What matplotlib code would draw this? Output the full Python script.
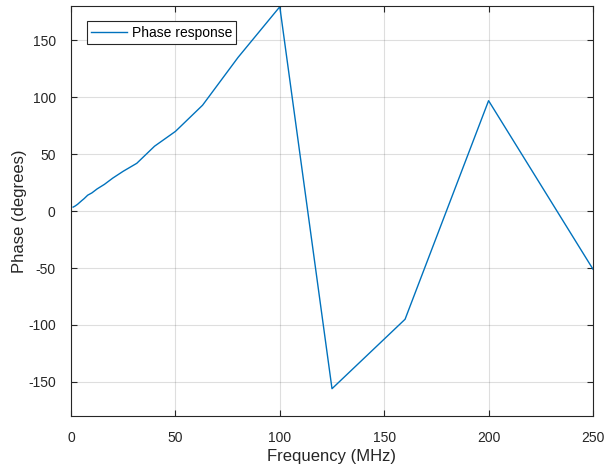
import matplotlib
matplotlib.use("Agg")
import matplotlib.pyplot as plt

# 1/3-octave frequency points (MHz) and phase
freq_mhz = [1, 2, 3.15, 5, 6.3, 8, 10, 12.5, 16, 20, 25, 31.5, 40, 50, 63, 80, 100, 125, 160, 200, 250]
phase_deg = [3.5, 4.5, 6, 9, 11, 14, 16, 19.5, 23.5, 29, 35, 42, 57, 70, 93, 135, 179.5, -156, -95, 97, -51]

x_ticks = [0, 50, 100, 150, 200, 250]
y_ticks = [-150, -100, -50, 0, 50, 100, 150]

plt.rcParams['font.family'] = ['Liberation Sans', 'DejaVu Sans']
plt.rcParams['axes.unicode_minus'] = False

fig = plt.figure(figsize=(6.06, 4.76), dpi=100)
ax = fig.add_axes([0.1172, 0.126, 0.8613, 0.861])

ax.plot(freq_mhz, phase_deg, color='#0072BD', linewidth=1.0, label='Phase response')

ax.set_xlim(0, 250)
ax.set_ylim(-180, 180)
ax.set_xticks(x_ticks)
ax.set_yticks(y_ticks)
ax.grid(True, color='#262626', alpha=0.15, linewidth=0.8)
ax.set_axisbelow(True)

ax.tick_params(direction='in', length=4, width=0.8, top=True, right=True,
               labelsize=10, colors='#262626', pad=11)
for s in ax.spines.values():
    s.set_color('#262626')
    s.set_linewidth(0.8)

ax.set_xlabel('Frequency (MHz)', fontsize=12, color='#262626', labelpad=3)
ax.set_ylabel('Phase (degrees)', fontsize=12, color='#262626', labelpad=1)

leg = ax.legend(loc='upper left', bbox_to_anchor=(0.03, 0.963), borderaxespad=0,
                fontsize=10, handlelength=2.6, handletextpad=0.35, borderpad=0.3,
                fancybox=False, framealpha=1)
leg.get_frame().set_edgecolor('#262626')
leg.get_frame().set_linewidth(0.8)

fig.savefig('out.png', dpi=100)
